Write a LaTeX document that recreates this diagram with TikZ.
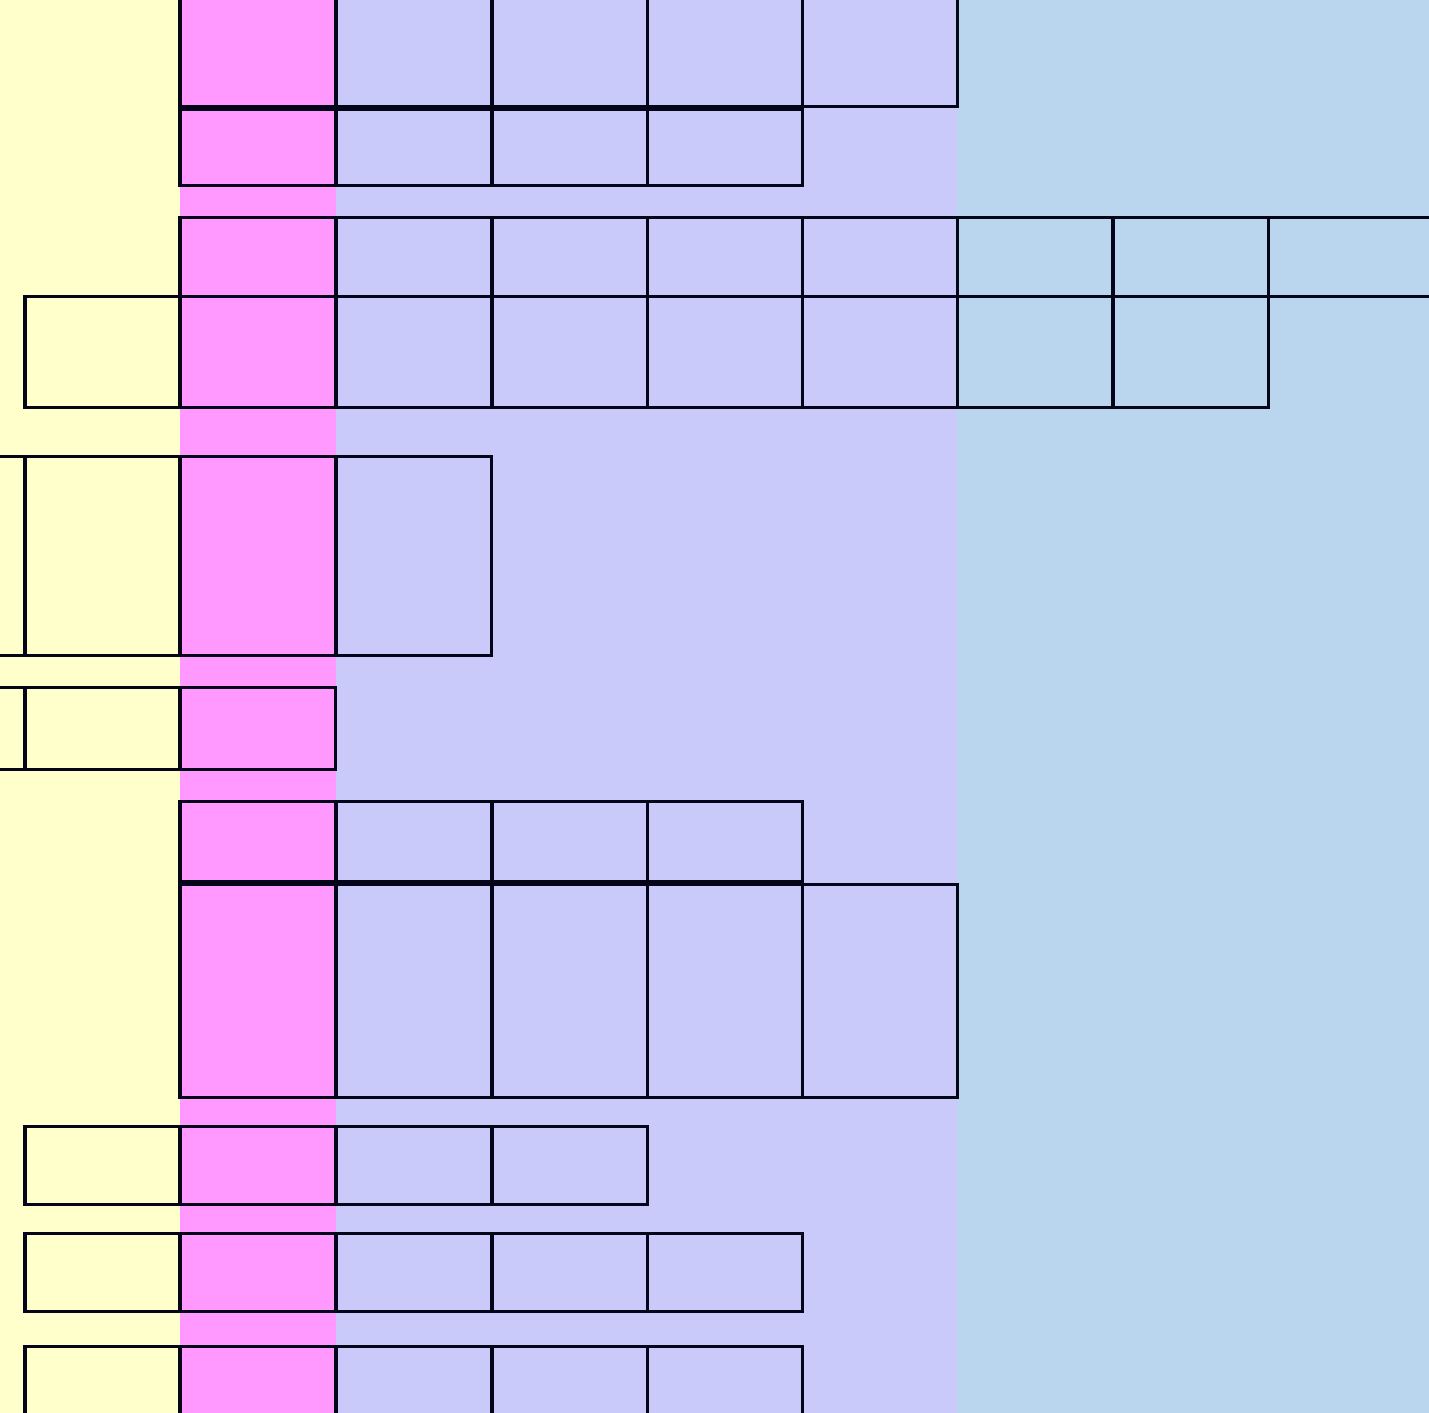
\documentclass[tikz,border=0pt]{standalone}
\usepackage{tikz}
\definecolor{bandyellow}{HTML}{FFFFCC}
\definecolor{bandpink}{HTML}{FF99FF}
\definecolor{bandlilac}{HTML}{CACAFA}
\definecolor{bandblue}{HTML}{BAD6EE}
\definecolor{edge}{HTML}{05051A}
\tikzset{
    cell/.style={draw=edge, line width=0.03cm},
    band/.style={draw=none}
}
% one row of boxes: top, bottom, left edges of the boxes
\newcommand{\cellrow}[3]{%
    \foreach \xl in {#3} {\draw[cell] (\xl,#1) rectangle ++(155.5,#2-#1);}}

\begin{document}
\begin{tikzpicture}[x=0.01cm, y=-0.01cm]
    \useasboundingbox (0,0) rectangle (1429,1413);
    % colour bands
    \fill[band, bandyellow] (0,0) rectangle (180,1413);
    \fill[band, bandpink] (180,0) rectangle (336,1413);
    \fill[band, bandlilac] (336,0) rectangle (957,1413);
    \fill[band, bandblue] (957,0) rectangle (1429,1413);

    % rows of boxes, top to bottom
    \cellrow{-10}{107}{180,336,492,647,802}
    \cellrow{110}{186}{180,336,492,647}
    \cellrow{218}{297}{180,336,492,647,802,957,1113}
    \draw[cell] (1268,218) rectangle (1445,297);
    \cellrow{297}{408}{25,180,336,492,647,802,957,1113}
    \draw[cell] (-20,457) rectangle (25,656);
    \cellrow{457}{656}{25,180,336}
    \draw[cell] (-20,688) rectangle (25,770);
    \cellrow{688}{770}{25,180}
    \cellrow{802}{882}{180,336,492,647}
    \cellrow{885}{1098}{180,336,492,647,802}
    \cellrow{1127}{1205}{25,180,336,492}
    \cellrow{1234}{1312}{25,180,336,492,647}
    \cellrow{1347}{1425}{25,180,336,492,647}
\end{tikzpicture}
\end{document}
